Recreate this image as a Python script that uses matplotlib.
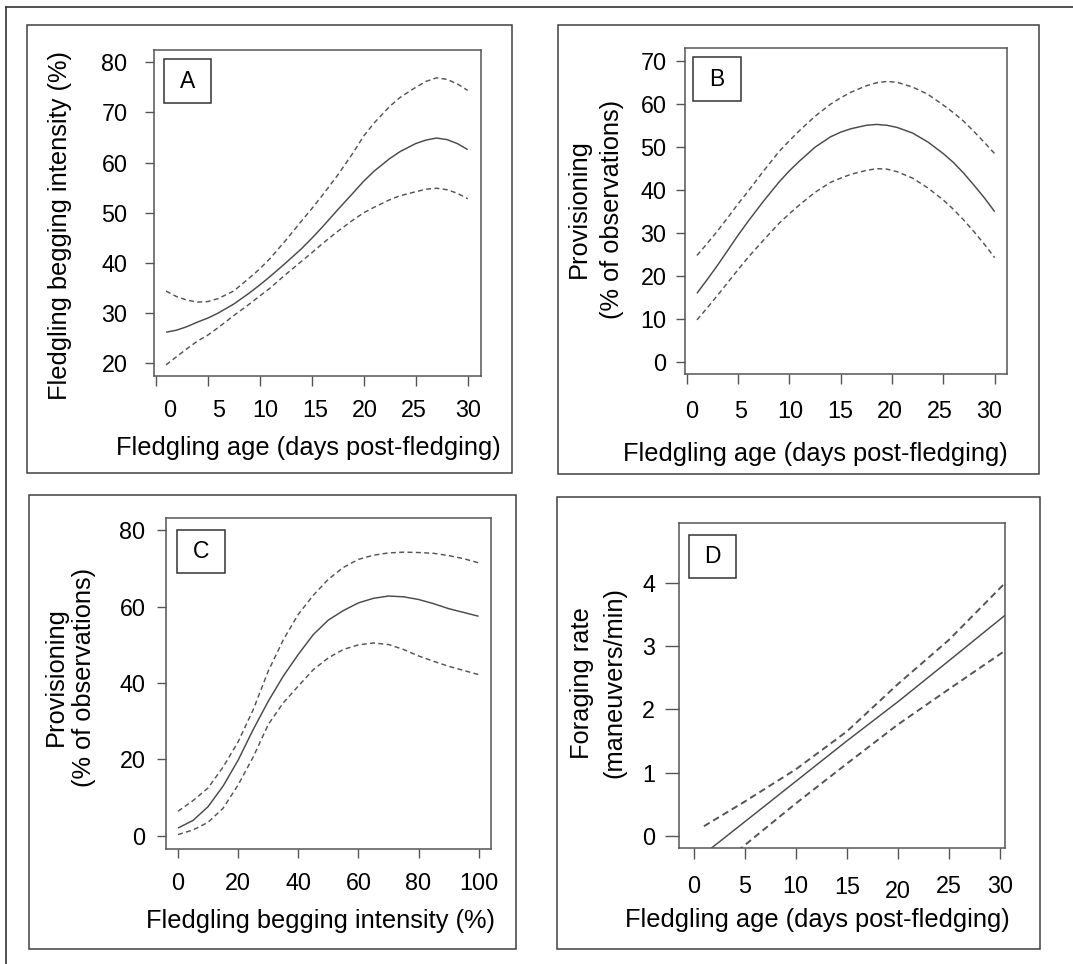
import matplotlib
matplotlib.use("Agg")
import matplotlib.pyplot as plt
from matplotlib.patches import Rectangle
from matplotlib.lines import Line2D
from matplotlib.transforms import ScaledTranslation

# ---------------- data ----------------
A_x = [1, 2, 3, 4, 5, 6, 7.5, 9, 10, 11, 12.5, 14, 15, 16, 17.5, 19, 20, 21, 22.5, 23.5,
       25, 26, 27, 28, 29, 30]
A_fit = [26.2, 26.6, 27.3, 28.2, 29.0, 30.0, 31.8, 34.0, 35.6, 37.3, 40.0, 42.8, 44.9, 47.1,
         50.6, 54.0, 56.3, 58.3, 60.8, 62.2, 63.8, 64.5, 64.9, 64.6, 63.8, 62.6]
A_upper = [34.4, 33.3, 32.6, 32.2, 32.3, 32.9, 34.4, 37.0, 38.8, 40.9, 44.5, 48.3, 50.8, 53.4,
           57.5, 62.0, 65.3, 67.9, 71.2, 73.0, 75.0, 76.2, 76.9, 76.6, 75.7, 74.4]
A_lower = [19.7, 21.3, 22.9, 24.4, 25.6, 27.1, 29.5, 31.8, 33.4, 35.0, 37.7, 40.3, 42.0, 43.8,
           46.3, 48.6, 50.0, 51.1, 52.6, 53.4, 54.2, 54.7, 54.9, 54.6, 53.9, 52.8]

B_x = [1, 2, 3, 4, 5, 6, 7.5, 9, 10, 11, 12.5, 14, 15, 16, 17.5, 18.5, 19.5, 20.5, 22, 23.5,
       25, 26, 27, 28, 29, 30]
B_fit = [16.0, 19.2, 22.5, 26.0, 29.5, 32.8, 37.5, 41.9, 44.5, 46.8, 50.0, 52.4, 53.5, 54.3,
         55.1, 55.3, 55.1, 54.6, 53.3, 51.2, 48.5, 46.4, 43.9, 41.1, 38.2, 35.0]
B_upper = [24.8, 27.6, 30.5, 33.6, 36.8, 39.8, 44.5, 49.0, 51.5, 53.9, 57.2, 60.0, 61.5, 62.8,
           64.3, 65.0, 65.3, 65.1, 64.0, 62.3, 59.8, 58.0, 56.0, 53.6, 51.1, 48.5]
B_lower = [9.8, 12.6, 15.5, 18.5, 21.5, 24.4, 28.4, 32.3, 34.5, 36.6, 39.5, 41.8, 42.8, 43.7,
           44.6, 45.0, 44.9, 44.3, 42.8, 40.5, 37.7, 35.5, 33.0, 30.3, 27.4, 24.3]

C_x = [0, 5, 10, 15, 20, 25, 30, 35, 40, 45, 50, 55, 60, 65, 70, 75, 80, 85, 90, 95, 100]
C_fit = [2.0, 4.0, 7.6, 13.0, 19.8, 27.8, 35.2, 41.8, 47.5, 52.7, 56.5, 59.0, 61.0, 62.2, 62.8,
         62.6, 61.9, 60.8, 59.5, 58.5, 57.5]
C_upper = [6.4, 9.2, 12.5, 18.0, 24.6, 33.0, 43.1, 51.3, 58.0, 63.0, 67.2, 70.3, 72.4, 73.5, 74.1,
           74.3, 74.2, 74.0, 73.4, 72.6, 71.5]
C_lower = [0.3, 1.5, 3.5, 7.2, 13.3, 20.6, 29.1, 34.8, 39.2, 43.5, 46.6, 48.8, 50.0, 50.5, 50.1,
           48.8, 47.1, 45.7, 44.4, 43.3, 42.2]

D_x = [1, 5, 10, 15, 20, 25, 30.5]
D_fit = [-0.29, 0.22, 0.86, 1.50, 2.12, 2.77, 3.49]
D_upper = [0.15, 0.54, 1.05, 1.65, 2.40, 3.10, 4.00]
D_lower = [-0.68, -0.15, 0.51, 1.14, 1.76, 2.32, 2.93]

A_xticks = [0, 5, 10, 15, 20, 25, 30]
A_yticks = [20, 30, 40, 50, 60, 70, 80]
B_xticks = [0, 5, 10, 15, 20, 25, 30]
B_yticks = [0, 10, 20, 30, 40, 50, 60, 70]
C_xticks = [0, 20, 40, 60, 80, 100]
C_yticks = [0, 20, 40, 60, 80]
D_xticks = [0, 5, 10, 15, 20, 25, 30]
D_yticks = [0, 1, 2, 3, 4]

letters = ["A", "B", "C", "D"]
xlabels = ["Fledgling age (days post-fledging)", "Fledgling age (days post-fledging)",
           "Fledgling begging intensity (%)", "Fledgling age (days post-fledging)"]
ylabels = [["Fledgling begging intensity (%)"],
           ["Provisioning", "(% of observations)"],
           ["Provisioning", "(% of observations)"],
           ["Foraging rate", "(maneuvers/min)"]]

# ---------------- style ----------------
plt.rcParams['font.family'] = ['Liberation Sans', 'DejaVu Sans']
plt.rcParams['lines.scale_dashes'] = False
W, H = 1073, 964
fig = plt.figure(figsize=(W / 100, H / 100), dpi=100)
fig.patch.set_facecolor('white')

TXT = '#000000'
LINE = '#4a4a4a'
DASH = '#555555'
BOX = '#555555'
FRAME = '#404040'
TICK_FS = 16.8
LAB_FS = 18.3


def fx(x):
    return x / W


def fy(y):
    return 1 - y / H


def rect_px(l, t, r, b):
    return [fx(l), fy(b), (r - l) / W, (b - t) / H]


# outer partial border (top and left)
fig.add_artist(Line2D([fx(6), 1.0], [fy(7), fy(7)], transform=fig.transFigure, color='#222222', lw=1.1))
fig.add_artist(Line2D([fx(6), fx(6)], [fy(7), 0.0], transform=fig.transFigure, color='#222222', lw=1.1))

panels = [
    dict(frame=(27, 25, 512, 473), ax=(154, 50, 481, 376), xlim=(-0.16, 31.28), ylim=(17.47, 82.45),
         x=A_x, fit=A_fit, up=A_upper, lo=A_lower, xt=A_xticks, yt=A_yticks,
         letter_box=(164, 59, 211, 103), xlab=(308.5, 455), ylab=[(60, 225)],
         ylen=6.6, ypad=12.5, xlen=7.2, xpad=9.5, lw=1.05, dlw=1.05, dash=(3.6, 2.4),
         xoff=[(14, 0), (11, 0), (5.5, 0), (4, 0), (1.5, 0), (-1.5, 0), (0, 0)]),
    dict(frame=(558, 25, 1039, 474), ax=(685, 48, 1007, 374), xlim=(-0.165, 31.2), ylim=(-2.79, 73.09),
         x=B_x, fit=B_fit, up=B_upper, lo=B_lower, xt=B_xticks, yt=B_yticks,
         letter_box=(693, 57, 741, 101), xlab=(815, 461), ylab=[(578.5, 209), (612.5, 209)],
         ylen=6.8, ypad=6.5, xlen=7.2, xpad=11.5, lw=1.05, dlw=1.05, dash=(3.6, 2.4),
         xoff=[(5, 0), (2.5, 0), (0.5, 0), (0, 0), (-2, 0), (-3.3, 0), (-6, 0)]),
    dict(frame=(29, 495, 516, 949), ax=(166, 518, 491, 849), xlim=(-3.99, 104.1), ylim=(-3.49, 83.25),
         x=C_x, fit=C_fit, up=C_upper, lo=C_lower, xt=C_xticks, yt=C_yticks,
         letter_box=(177, 530, 225, 573), xlab=(321, 928), ylab=[(56, 677), (83.5, 677)],
         ylen=6.4, ypad=8.4, xlen=6.8, xpad=9.8, lw=1.05, dlw=1.05, dash=(3.6, 2.4),
         xoff=[(0, 0)] * 6),
    dict(frame=(557, 497, 1040, 949), ax=(679, 523, 1005, 848), xlim=(-1.44, 30.49), ylim=(-0.195, 4.95),
         x=D_x, fit=D_fit, up=D_upper, lo=D_lower, xt=D_xticks, yt=D_yticks,
         letter_box=(689, 535, 736, 578), xlab=(817.5, 926.7), ylab=[(582.5, 683), (614.5, 683)],
         ylen=10.0, ypad=7.2, xlen=7.6, xpad=11.5, lw=1.05, dlw=1.4, dash=(4.8, 3.0),
         xoff=[(0, 0), (0, 0), (0, 0), (0, 1), (0, 5), (0, 0), (0, 0)]),
]

for i, p in enumerate(panels):
    l, t, r, b = p['frame']
    fig.add_artist(Rectangle((fx(l), fy(b)), (r - l) / W, (b - t) / H, transform=fig.transFigure,
                             fill=False, ec=FRAME, lw=1.1))
    ax = fig.add_axes(rect_px(*p['ax']))
    ax.plot(p['x'], p['fit'], color=LINE, lw=p['lw'], solid_capstyle='butt')
    ax.plot(p['x'], p['up'], color=DASH, lw=p['dlw'], dashes=p['dash'])
    ax.plot(p['x'], p['lo'], color=DASH, lw=p['dlw'], dashes=p['dash'])
    ax.set_xlim(*p['xlim'])
    ax.set_ylim(*p['ylim'])
    ax.set_xticks(p['xt'])
    ax.set_yticks(p['yt'])
    ax.set_xticklabels([str(v) for v in p['xt']])
    ax.set_yticklabels([str(v) for v in p['yt']])
    for s in ax.spines.values():
        s.set_color(BOX)
        s.set_linewidth(1.1)
    ax.tick_params(axis='y', direction='out', length=p['ylen'], width=1.0, color=BOX,
                   labelsize=TICK_FS, labelcolor=TXT, pad=p['ypad'])
    ax.tick_params(axis='x', direction='out', length=p['xlen'], width=1.0, color=BOX,
                   labelsize=TICK_FS, labelcolor=TXT, pad=p['xpad'])
    # small hand-placement offsets of x tick labels (pixels; dy positive = down)
    for lab, (dx, dy) in zip(ax.get_xticklabels(), p['xoff']):
        lab.set_transform(lab.get_transform() + ScaledTranslation(dx / 100, -dy / 100,
                                                                  fig.dpi_scale_trans))
    # panel letter box
    bl, bt, br, bb = p['letter_box']
    fig.add_artist(Rectangle((fx(bl), fy(bb)), (br - bl) / W, (bb - bt) / H, transform=fig.transFigure,
                             fill=True, fc='white', ec='#333333', lw=1.1, zorder=5))
    fig.text(fx((bl + br) / 2), fy((bt + bb) / 2), letters[i], ha='center', va='center',
             fontsize=16.5, color=TXT, zorder=6)
    # axis labels
    xl, yl = p['xlab']
    fig.text(fx(xl), fy(yl), xlabels[i], ha='center', va='baseline', fontsize=LAB_FS, color=TXT)
    for line, (cx, cy) in zip(ylabels[i], p['ylab']):
        fig.text(fx(cx), fy(cy), line, ha='center', va='center', rotation=90,
                 fontsize=LAB_FS, color=TXT)

fig.savefig('out.png', dpi=100, facecolor='white')
